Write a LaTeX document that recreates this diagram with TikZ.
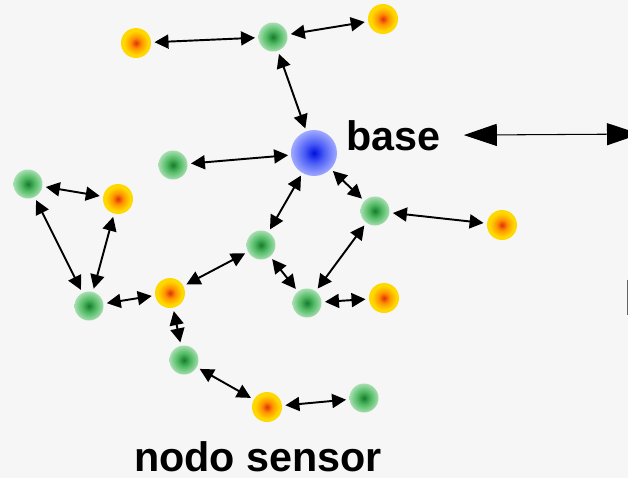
\documentclass[tikz,border=0pt]{standalone}
\usepackage{fontspec}
\setmainfont{Liberation Sans}
\usetikzlibrary{arrows.meta}

\definecolor{bgcol}{HTML}{F6F6F6}
\definecolor{grnin}{HTML}{187A2E}
\definecolor{grnmid}{HTML}{4DB860}
\definecolor{grnout}{HTML}{A6DEB0}
\definecolor{orgin}{HTML}{E0300E}
\definecolor{orgmid}{HTML}{FF9200}
\definecolor{orgout}{HTML}{FFD800}
\definecolor{bluin}{HTML}{0010E0}
\definecolor{blumid}{HTML}{4C5EF6}
\definecolor{bluout}{HTML}{A0AAFF}

\pgfdeclareradialshading{greendot}{\pgfpoint{0bp}{0bp}}{color(0bp)=(grnin); color(11bp)=(grnmid); color(25bp)=(grnout); color(50bp)=(grnout)}
\pgfdeclareradialshading{orangedot}{\pgfpoint{0bp}{0bp}}{color(0bp)=(orgin); color(9bp)=(orgmid); color(20bp)=(orgout); color(25bp)=(orgout); color(50bp)=(orgout)}
\pgfdeclareradialshading{bluedot}{\pgfpoint{0bp}{0bp}}{color(0bp)=(bluin); color(11bp)=(blumid); color(25bp)=(bluout); color(50bp)=(bluout)}

\tikzset{
  greennode/.style={circle, inner sep=0pt, minimum size=0.58cm, outer sep=0.07cm, shading=greendot},
  orangenode/.style={circle, inner sep=0pt, minimum size=0.6cm, outer sep=0.07cm, shading=orangedot},
  basenode/.style={circle, inner sep=0pt, minimum size=0.92cm, outer sep=0.06cm, shading=bluedot},
  link/.style={{Triangle[length=0.28cm, width=0.28cm]}-{Triangle[length=0.28cm, width=0.28cm]}, line width=1.1pt},
  wide/.style={{Triangle[length=0.66cm, width=0.44cm]}-{Triangle[length=0.66cm, width=0.44cm]}, line width=0.6pt},
  tag/.style={inner sep=0pt, font=\fontsize{23.5}{28}\selectfont\bfseries}
}

\begin{document}
\begin{tikzpicture}[x=0.02cm, y=-0.02cm]
  % background
  \fill[bgcol] (0,0) rectangle (628,478);
  \useasboundingbox (0,0) rectangle (628,478);

  % base station
  \node[basenode] (bs) at (314,153) {};

  % green nodes
  \node[greennode] (g1) at (273,37) {};
  \node[greennode] (g2) at (173,165) {};
  \node[greennode] (g3) at (28,184) {};
  \node[greennode] (g4) at (375,211) {};
  \node[greennode] (g5) at (261,245) {};
  \node[greennode] (g6) at (89,306) {};
  \node[greennode] (g7) at (307,303) {};
  \node[greennode] (g8) at (184,360) {};
  \node[greennode] (g9) at (364,398) {};

  % orange nodes
  \node[orangenode] (o1) at (136,43) {};
  \node[orangenode] (o2) at (383,19) {};
  \node[orangenode] (o3) at (118,199) {};
  \node[orangenode] (o4) at (502,225) {};
  \node[orangenode] (o5) at (170,293) {};
  \node[orangenode] (o6) at (384,298) {};
  \node[orangenode] (o7) at (267,407) {};

  % links
  \foreach \a/\b in {o1/g1, g1/o2, g1/bs, g2/bs, bs/g5, bs/g4, g4/o4, g4/g7,
                     g5/o5, g5/g7, g7/o6, g3/o3, g3/g6, o3/g6, g6/o5, o5/g8,
                     g8/o7, o7/g9} {
    \draw[link] (\a) -- (\b);
  }

  % labels
  \node[tag, anchor=base west] (basetxt) at (346,150) {base};
  \node[tag, anchor=base] (sensortxt) at (258,471) {nodo sensor};
  \node[inner sep=0pt, anchor=base west, font=\fontsize{29}{34}\selectfont\bfseries] (cuttxt) at (623.7,315) {I};

  \coordinate (far) at (640,134);
  \draw[wide, shorten <=0.46cm] (basetxt.east) -- (far);
\end{tikzpicture}
\end{document}
